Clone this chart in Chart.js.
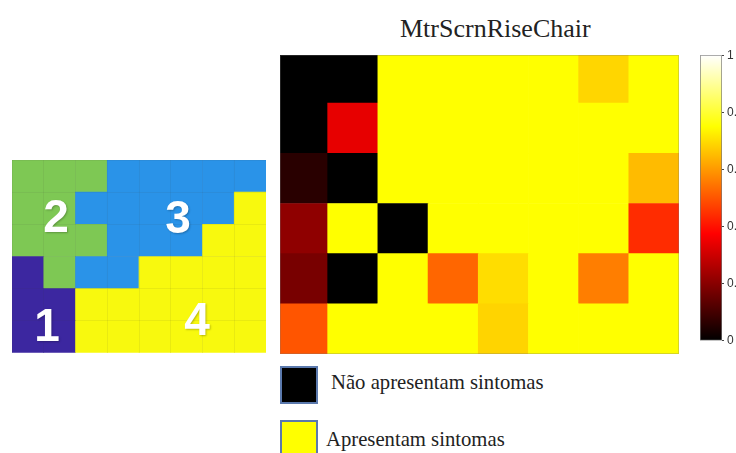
<!DOCTYPE html>
<html lang="en">
<head>
    <meta charset="UTF-8">
    <title>MtrScrnRiseChair</title>
    <script src="https://cdn.jsdelivr.net/npm/chart.js"></script>
    <style>
        html, body { margin: 0; width: 736px; height: 453px; overflow: hidden; background: #ffffff; }
        canvas { position: absolute; }
        #clusterChart { left: 12px; top: 160px; }
        #heatChart { left: 280px; top: 55px; outline: 1px solid rgba(120, 120, 120, 0.3); outline-offset: -1px; }
        #barChart { left: 700px; top: 45px; }
        .num {
            position: absolute; width: 60px; height: 50px; text-align: center;
            font: bold 46px/50px 'Liberation Sans', sans-serif; color: #ffffff;
            text-shadow: 1px 1px 2px rgba(0, 0, 0, 0.25);
        }
        .box { position: absolute; left: 280px; width: 34px; height: 34px; border: 2px solid #5b79ad; }
        .txt { position: absolute; font: 20.7px 'Liberation Serif', serif; color: #222222; white-space: nowrap; }
    </style>
</head>
<body>
    <canvas id="clusterChart" width="254" height="193"></canvas>
    <canvas id="heatChart" width="399" height="299"></canvas>
    <canvas id="barChart" width="36" height="306"></canvas>

    <div class="txt" style="left:400px;top:14px;font-size:26px">MtrScrnRiseChair</div>

    <div class="num" style="left:26px;top:191px">2</div>
    <div class="num" style="left:148px;top:192px">3</div>
    <div class="num" style="left:17px;top:300px">1</div>
    <div class="num" style="left:167px;top:294px">4</div>

    <div class="box" style="top:366px;background:#000000"></div>
    <div class="txt" style="left:331px;top:371px">Não apresentam sintomas</div>
    <div class="box" style="top:420px;background:#ffff00"></div>
    <div class="txt" style="left:326px;top:428px">Apresentam sintomas</div>

    <script>
        const columns = [1, 2, 3, 4, 5, 6, 7, 8];

        // cluster number of each cell, rows from top to bottom
        const clusterRow1 = [2, 2, 2, 3, 3, 3, 3, 3];
        const clusterRow2 = [2, 2, 3, 3, 3, 3, 3, 4];
        const clusterRow3 = [2, 2, 2, 3, 3, 3, 4, 4];
        const clusterRow4 = [1, 2, 3, 3, 4, 4, 4, 4];
        const clusterRow5 = [1, 1, 4, 4, 4, 4, 4, 4];
        const clusterRow6 = [1, 1, 4, 4, 4, 4, 4, 4];
        const clusterColors = { 1: '#3c27a0', 2: '#7ec854', 3: '#2a93e8', 4: '#f8f90e' };

        // MtrScrnRiseChair values, rows from top to bottom
        const heatRow1 = [0, 0, 0.75, 0.75, 0.75, 0.75, 0.69, 0.75];
        const heatRow2 = [0, 0.34, 0.75, 0.75, 0.75, 0.75, 0.75, 0.75];
        const heatRow3 = [0.06, 0, 0.75, 0.75, 0.75, 0.75, 0.75, 0.65];
        const heatRow4 = [0.21, 0.75, 0, 0.75, 0.75, 0.75, 0.75, 0.44];
        const heatRow5 = [0.176, 0, 0.75, 0.525, 0.70, 0.75, 0.56, 0.75];
        const heatRow6 = [0.50, 0.75, 0.75, 0.75, 0.687, 0.75, 0.75, 0.75];

        const clusterRows = [clusterRow1, clusterRow2, clusterRow3, clusterRow4, clusterRow5, clusterRow6];
        const heatRows = [heatRow1, heatRow2, heatRow3, heatRow4, heatRow5, heatRow6];

        // Matlab "hot" colormap
        function hot(v) {
            const r = Math.min(1, v / 0.375);
            const g = Math.max(0, Math.min(1, (v - 0.375) / 0.375));
            const b = Math.max(0, Math.min(1, (v - 0.75) / 0.25));
            return `rgb(${Math.round(r * 255)}, ${Math.round(g * 255)}, ${Math.round(b * 255)})`;
        }

        // One stacked dataset per row, each cell is one unit tall. Bottom row goes first.
        function rowDatasets(rows, colorOf) {
            return rows.slice().reverse().map(function (row) {
                return {
                    data: row.map((v, i) => ({ x: columns[i], y: 1 })),
                    backgroundColor: row.map(colorOf),
                    barPercentage: 1,
                    categoryPercentage: 1,
                    borderWidth: 0
                };
            });
        }

        const plainPlugins = { legend: { display: false }, tooltip: { enabled: false } };

        // Left map: faint grid over every cell
        const cellLine = 'rgba(60, 60, 60, 0.08)';
        new Chart(document.getElementById('clusterChart'), {
            type: 'bar',
            data: { labels: columns, datasets: rowDatasets(clusterRows, c => clusterColors[c]) },
            options: {
                responsive: false,
                animation: false,
                plugins: plainPlugins,
                scales: {
                    x: { stacked: true, border: { display: false }, ticks: { display: false }, grid: { drawTicks: false, color: cellLine, z: 1 } },
                    y: { stacked: true, min: 0, max: 6, border: { display: false }, ticks: { display: false }, grid: { drawTicks: false, color: cellLine, z: 1 } }
                }
            }
        });

        // Heatmap: the picture is cropped a little, so the first column and top row are cut short
        new Chart(document.getElementById('heatChart'), {
            type: 'bar',
            data: { datasets: rowDatasets(heatRows, hot) },
            options: {
                responsive: false,
                animation: false,
                plugins: plainPlugins,
                scales: {
                    x: { type: 'linear', stacked: true, offset: false, display: false, min: 0.55, max: 8.5, ticks: { stepSize: 1, includeBounds: false } },
                    y: { stacked: true, display: false, min: 0, max: 5.96 }
                }
            }
        });

        // Colour bar
        const barTicks = [0, 0.2, 0.4, 0.6, 0.8, 1];
        new Chart(document.getElementById('barChart'), {
            type: 'bar',
            data: {
                labels: ['hot'],
                datasets: [{
                    data: [[0, 1]],
                    barPercentage: 1,
                    categoryPercentage: 1,
                    borderWidth: 1,
                    borderSkipped: false,
                    borderColor: '#777777',
                    backgroundColor: function (ctx) {
                        const area = ctx.chart.chartArea;
                        if (!area) return '#000000';
                        const g = ctx.chart.ctx.createLinearGradient(0, area.bottom, 0, area.top);
                        g.addColorStop(0, '#000000');
                        g.addColorStop(0.375, '#ff0000');
                        g.addColorStop(0.75, '#ffff00');
                        g.addColorStop(1, '#ffffff');
                        return g;
                    }
                }]
            },
            options: {
                responsive: false,
                animation: false,
                layout: { padding: { top: 10, bottom: 10 } },
                plugins: plainPlugins,
                scales: {
                    x: { display: false },
                    y: {
                        position: 'right',
                        min: 0,
                        max: 1,
                        afterFit: s => { s.width = 14; },
                        afterBuildTicks: s => { s.ticks = barTicks.map(v => ({ value: v })); },
                        border: { display: false },
                        grid: { drawOnChartArea: false, tickLength: 2, color: '#444444' },
                        ticks: {
                            padding: 3,
                            color: '#333333',
                            font: { family: "'Liberation Sans', sans-serif", size: 12 },
                            callback: v => String(v)
                        }
                    }
                }
            }
        });
    </script>
</body>
</html>
